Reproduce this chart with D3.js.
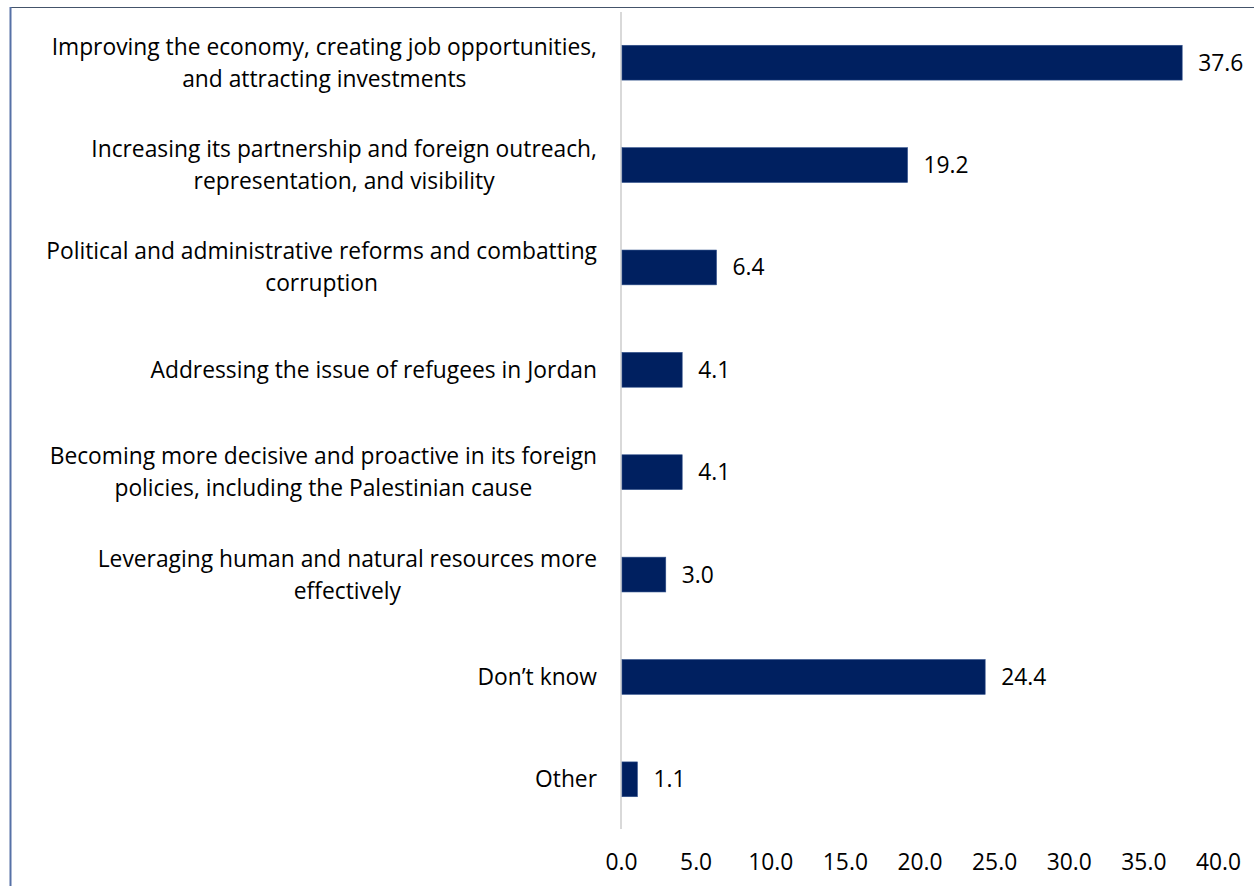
<!DOCTYPE html>
<html>
<head>
<meta charset="utf-8">
<script src="https://cdn.jsdelivr.net/npm/d3@7"></script>
<style>
  html, body { margin: 0; padding: 0; background: #ffffff; }
  svg text { font-family: "Open Sans", sans-serif; fill: #000000; }
</style>
</head>
<body>
<svg id="chart" width="1254" height="886"></svg>
<script>
// Category labels, one array of lines per bar
const categories = [
  ["Improving the economy, creating job opportunities,", "and attracting investments"],
  ["Increasing its partnership and foreign outreach,", "representation, and visibility"],
  ["Political and administrative reforms and combatting", "corruption"],
  ["Addressing the issue of refugees in Jordan"],
  ["Becoming more decisive and proactive in its foreign", "policies, including the Palestinian cause"],
  ["Leveraging human and natural resources more", "effectively"],
  ["Don\u2019t know"],
  ["Other"]
];
const values = [37.6, 19.2, 6.4, 4.1, 4.1, 3.0, 24.4, 1.1];
const tickValues = [0, 5, 10, 15, 20, 25, 30, 35, 40];

const W = 1254, H = 886;
const svg = d3.select("#chart");
const fontSize = 22.8;

// Outer frame: top and left edges
svg.append("line").attr("x1", 10).attr("x2", W).attr("y1", 7.5).attr("y2", 7.5)
  .attr("stroke", "#44546a").attr("stroke-width", 1.2);
svg.append("line").attr("x1", 10.5).attr("x2", 10.5).attr("y1", 7).attr("y2", H)
  .attr("stroke", "#5671a6").attr("stroke-width", 2);

const x = d3.scaleLinear().domain([0, 40]).range([621, 1218]);
const idx = d3.range(values.length);
const y = d3.scaleBand().domain(idx).range([11.5, 830.5]).paddingInner(0.66).paddingOuter(0.33);

// Vertical category axis line
svg.append("line").attr("x1", x(0)).attr("x2", x(0)).attr("y1", 12).attr("y2", 829)
  .attr("stroke", "#d9d9d9").attr("stroke-width", 2);

// Bars
svg.append("g").selectAll("rect").data(idx).join("rect")
  .attr("x", x(0) + 1)
  .attr("y", i => y(i))
  .attr("width", i => x(values[i]) - x(0) - 1)
  .attr("height", y.bandwidth())
  .attr("fill", "#002060")
  .attr("stroke", "#2f4f8a").attr("stroke-width", 0.6);

// Value labels
svg.append("g").selectAll("text").data(idx).join("text")
  .attr("x", i => x(values[i]) + 16)
  .attr("y", i => y(i) + y.bandwidth() / 2)
  .attr("dy", "0.35em")
  .attr("font-size", fontSize)
  .text(i => values[i].toFixed(1));

// Category labels: lines centred on each other, block right-aligned to the axis
const labelRight = 597, lineH = 32;
const lg = svg.append("g");
idx.forEach(i => {
  const lines = categories[i];
  const cy = y(i) + y.bandwidth() / 2;
  const t = lg.append("text").attr("font-size", fontSize).attr("text-anchor", "middle");
  const spans = lines.map((s, k) => t.append("tspan")
    .attr("y", cy + (k - (lines.length - 1) / 2) * lineH)
    .attr("dy", "0.35em").text(s));
  const maxW = d3.max(spans, sp => sp.node().getComputedTextLength());
  spans.forEach(sp => sp.attr("x", labelRight - maxW / 2));
});

// Value axis at the bottom
const axis = svg.append("g").attr("transform", "translate(0,862)")
  .call(d3.axisBottom(x).tickValues(tickValues).tickFormat(d3.format(".1f")).tickSize(0));
axis.select(".domain").remove();
axis.selectAll("text").attr("font-size", fontSize).attr("dy", "0.35em").attr("y", 0)
  .style("font-family", "'Open Sans', sans-serif").attr("fill", "#000");
</script>
</body>
</html>
